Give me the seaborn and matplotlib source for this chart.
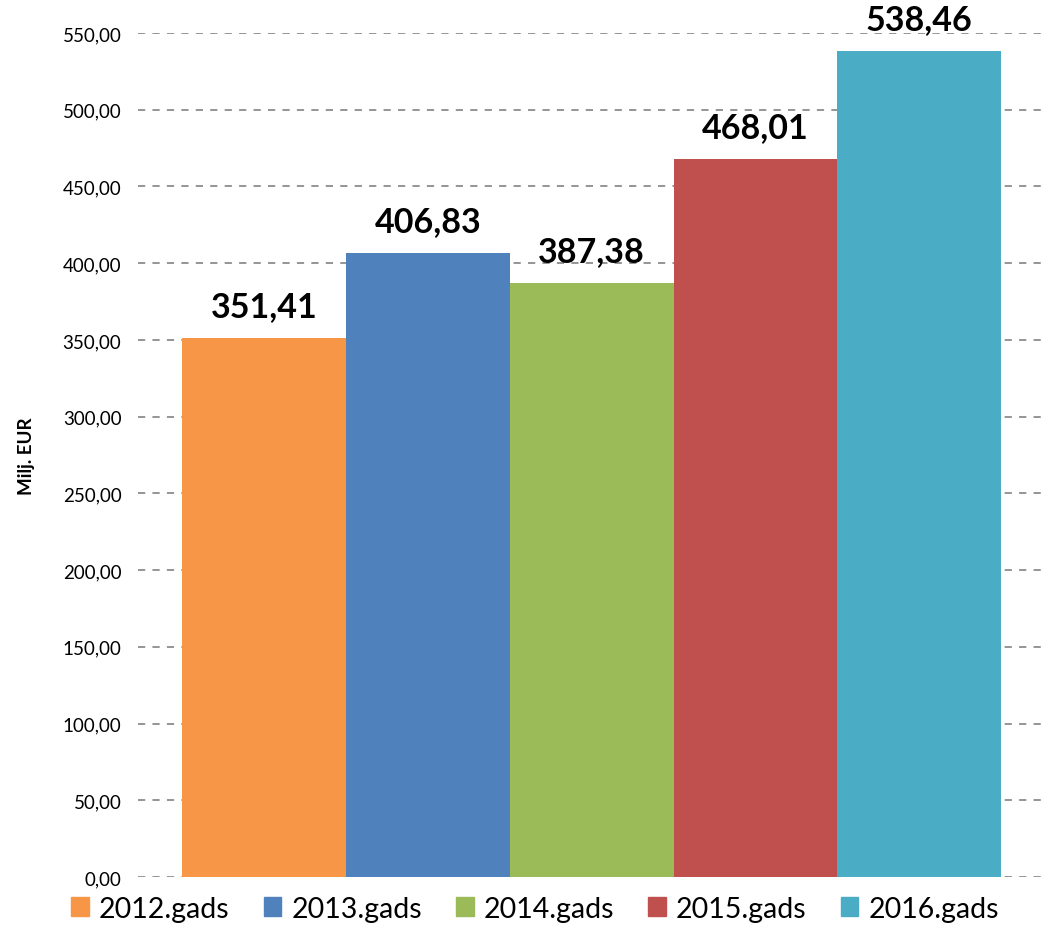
import matplotlib
matplotlib.use("Agg")
import matplotlib.pyplot as plt
import seaborn as sns
import pandas as pd

# data
years = ["2012.gads", "2013.gads", "2014.gads", "2015.gads", "2016.gads"]
values = [351.41, 406.83, 387.38, 468.01, 538.46]
colors = ["#F79646", "#4F81BD", "#9BBB59", "#C0504D", "#4BACC6"]
yticks = list(range(0, 551, 50))

sns.set_style("white")
plt.rcParams["font.family"] = ["Lato", "DejaVu Sans"]
plt.rcParams["text.color"] = "black"
plt.rcParams["axes.labelcolor"] = "black"
plt.rcParams["ytick.color"] = "black"

df = pd.DataFrame({"year": years, "value": values})

fig = plt.figure(figsize=(10.49, 9.37), dpi=100)
ax = fig.add_axes([0.1316, 0.063, 0.8634, 0.9007])

sns.barplot(data=df, x="year", y="value", hue="year", palette=colors,
            width=1.0, saturation=1, legend=False, ax=ax, zorder=3,
            linewidth=0, edgecolor="none")

ax.set_xlim(-0.77, 4.76)
ax.set_ylim(0, 550)
ax.set_yticks(yticks)
ax.set_yticklabels([f"{t:.2f}".replace(".", ",") for t in yticks], fontsize=13.5)
ax.tick_params(axis="y", length=0, pad=12)
ax.set_xticks([])
ax.set_xlabel("")
ax.set_ylabel("Milj. EUR", fontsize=13.5, fontweight="bold", labelpad=20)
ax.grid(axis="y", color="#8c8c8c", linestyle=(0, (4, 4)), linewidth=1.3, zorder=0)
for s in ax.spines.values():
    s.set_visible(False)

# value labels
for i, v in enumerate(values):
    ax.text(i, v + 10, f"{v:.2f}".replace(".", ","), ha="center", va="bottom",
            fontsize=24.5, fontweight="bold", clip_on=False)

# legend with square markers
handles = [plt.Rectangle((0, 0), 1, 1, color=c) for c in colors]
fig.legend(handles, years, loc="lower center", bbox_to_anchor=(0.51, -0.012),
           ncol=5, frameon=False, fontsize=20.5, handlelength=0.62, handleheight=0.62,
           handletextpad=0.35, columnspacing=1.2)

fig.savefig("out.png", dpi=100)
